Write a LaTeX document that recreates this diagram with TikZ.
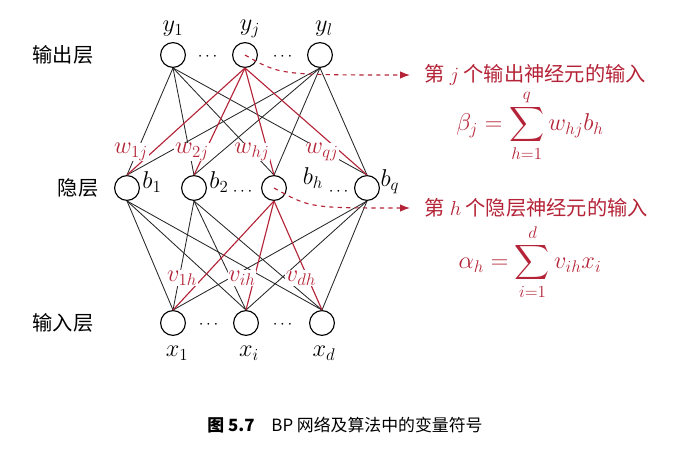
\documentclass[tikz,border=0pt]{standalone}
\usepackage{amsmath}
\usepackage{fontspec}
\newfontfamily\cjk{Noto Sans CJK SC}
\usetikzlibrary{arrows.meta,calc}
\definecolor{bpred}{RGB}{180,35,55}
\tikzset{
  neuron/.style={draw,circle,minimum size=0.62cm,inner sep=0pt,thick},
  wlabel/.style={text=bpred,font=\LARGE,fill=white,inner sep=0.5pt},
  blabel/.style={font=\LARGE},
  redline/.style={bpred,thick},
  grayline/.style={black!85,semithick},
  layer/.style={font=\cjk\Large},
  note/.style={bpred,font=\Large},
  formula/.style={bpred,font=\LARGE},
  darrow/.style={bpred,thick,dashed,-{Latex[length=7pt]}}
}
\begin{document}
\begin{tikzpicture}[x=0.025cm,y=-0.025cm]
\useasboundingbox (0,0) rectangle (691,454);
%neurons
\node[neuron](y1)at(173,55){};
\node[neuron](yj)at(245,55){};
\node[neuron](yl)at(320,55){};
\node[neuron](b1)at(127,188){};
\node[neuron](b2)at(194,188){};
\node[neuron](bh)at(274,188){};
\node[neuron](bq)at(367,188){};
\node[neuron](x1)at(173,323){};
\node[neuron](xi)at(246,323){};
\node[neuron](xd)at(322,323){};
%dots
\node[font=\large]at(209,57){$\cdots$};
\node[font=\large]at(284,57){$\cdots$};
\node[font=\large]at(210,325){$\cdots$};
\node[font=\large]at(284,325){$\cdots$};
\node[font=\large]at(244,192){$\cdots$};
\node[font=\large]at(340,192){$\cdots$};
%connections
\foreach \o in {y1,yl}{
\foreach \h in {b1,b2,bh,bq}{
\draw[grayline](\o.south)--(\h.north);
}}
\foreach \h in {b1,b2,bq}{
\foreach \i in {x1,xi,xd}{
\draw[grayline](\h.south)--(\i.north);
}}
\foreach \h in {b1,b2,bh,bq}{
\draw[redline](yj.south)--(\h.north);
}
\foreach \i in {x1,xi,xd}{
\draw[redline](bh.south)--(\i.north);
}
%weight labels
\node[wlabel]at(131,152){$w_{1j}$};
\node[wlabel]at(192,152){$w_{2j}$};
\node[wlabel]at(252,152){$w_{hj}$};
\node[wlabel]at(322,152){$w_{qj}$};
\node[wlabel]at(182,278){$v_{1h}$};
\node[wlabel]at(242,278){$v_{ih}$};
\node[wlabel]at(301,278){$v_{dh}$};
%unit labels
\node[blabel]at(173,29){$y_1$};
\node[blabel]at(250,29){$y_j$};
\node[blabel]at(324,29){$y_l$};
\node[blabel]at(152,182){$b_1$};
\node[blabel]at(219,182){$b_2$};
\node[blabel]at(313,178){$b_h$};
\node[blabel]at(390,182){$b_q$};
\node[blabel]at(177,353){$x_1$};
\node[blabel]at(249,353){$x_i$};
\node[blabel]at(324,353){$x_d$};
%layer names
\node[layer]at(63,55){输出层};
\node[layer]at(78,188){隐层};
\node[layer]at(63,323){输入层};
%notes
\draw[darrow](yj.center)..controls(280,75)..(410,75);
\draw[darrow](bh.center)..controls(310,208)..(410,208);
\node[note,anchor=west]at(420,75){\cjk 第 $j$ 个输出神经元的输入};
\node[formula]at(530,126){$\beta_j=\displaystyle\sum_{h=1}^{q}w_{hj}b_h$};
\node[note,anchor=west]at(420,208){\cjk 第 $h$ 个隐层神经元的输入};
\node[formula]at(530,262){$\alpha_h=\displaystyle\sum_{i=1}^{d}v_{ih}x_i$};
%caption
\node[font=\large]at(345,425){\cjk\bfseries 图 5.7\quad\mdseries BP 网络及算法中的变量符号};
\end{tikzpicture}
\end{document}
